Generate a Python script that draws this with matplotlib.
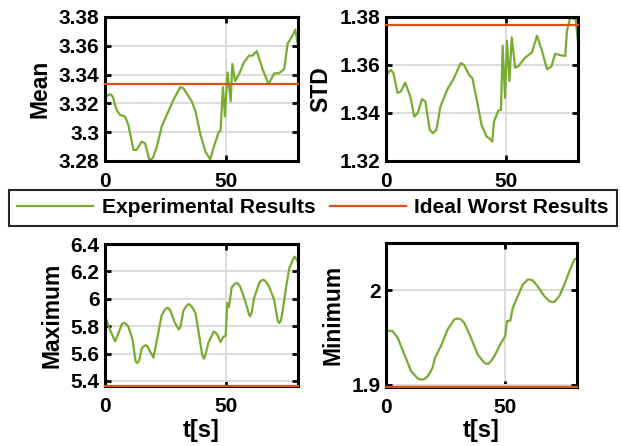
import numpy as np
import matplotlib
matplotlib.use('Agg')
import matplotlib.pyplot as plt
from matplotlib.ticker import FuncFormatter

plt.rcParams['font.family'] = ['Liberation Sans', 'DejaVu Sans']
plt.rcParams['font.weight'] = 'bold'

# values
mean_t = [0.5, 2.1, 3.2, 4.8, 6.2, 8.3, 9.7, 11.8, 13.1, 15.2, 16.6, 18.4, 19.8, 21.5, 23.5, 25.6, 28.4, 31.2,
          32.5, 36, 37.5, 39.6, 41.7, 43.6, 45.1, 47.2, 47.9, 48.9, 49.7, 50.8, 52.1, 52.8, 53.9, 55.6, 57.6,
          59.7, 61.1, 62.9, 65.3, 67.8, 70.1, 72.2, 74.3, 75.7, 77.8, 78.9, 80]
mean_v = [3.3250, 3.3264, 3.3248, 3.3155, 3.3120, 3.3109, 3.3050, 3.2877, 3.2877, 3.2935, 3.2923, 3.2807,
          3.2819, 3.2900, 3.3039, 3.3120, 3.3225, 3.3313, 3.3306, 3.3213, 3.3145, 3.2980, 3.2863, 3.2810,
          3.2899, 3.3004, 3.3010, 3.3314, 3.3110, 3.3415, 3.3215, 3.3474, 3.3356, 3.3404, 3.3485, 3.3532,
          3.3532, 3.3563, 3.3439, 3.3333, 3.3408, 3.3410, 3.3439, 3.3615, 3.3673, 3.3713, 3.3600]
mean_worst = 3.3335

std_t = [0.5, 2, 3.1, 4.8, 6.2, 8, 10.1, 11.8, 13.2, 15, 16.4, 18.2, 19.6, 21, 22.7, 25.5, 28.3, 31.1, 32.5,
         34.6, 36, 37.8, 39.8, 41.9, 43.6, 44.3, 45, 46.8, 47.9, 48.6, 49.6, 50.4, 51.4, 52.4, 53.8, 55.2, 58,
         60.8, 62.9, 65, 67.1, 68.9, 70.5, 72.6, 74.7, 75.4, 76.6, 77.5, 78.2, 78.9, 80]
std_v = [1.3563, 1.3580, 1.3566, 1.3483, 1.3490, 1.3527, 1.3469, 1.3385, 1.3399, 1.3458, 1.3448, 1.3330,
         1.3316, 1.3330, 1.3427, 1.3497, 1.3545, 1.3608, 1.3601, 1.3559, 1.3545, 1.3455, 1.3351, 1.3302,
         1.3290, 1.3281, 1.3365, 1.3410, 1.3413, 1.3680, 1.3463, 1.3701, 1.3533, 1.3715, 1.3589, 1.3596,
         1.3631, 1.3652, 1.3722, 1.3659, 1.3582, 1.3594, 1.3647, 1.3641, 1.3638, 1.3743, 1.3792, 1.3805,
         1.3790, 1.3805, 1.3694]
std_worst = 1.3765

max_t = [0.5, 2.1, 4.2, 5.5, 7, 7.9, 8.8, 9.7, 11.5, 12.6, 13.2, 13.8, 14.3, 15.2, 16.2, 17, 17.8, 18.4, 20.1,
         21.5, 23.5, 24.6, 25.6, 26.4, 27, 28.8, 30.5, 31.2, 32.5, 33.6, 34.6, 35.3, 36, 37.5, 39.2, 40.3, 41,
         41.8, 42.8, 45.1, 46.5, 47.9, 48.9, 50, 50.7, 51.4, 52.5, 53.8, 54.9, 56, 57, 59, 59.6, 60.1, 60.8,
         61.8, 63.9, 64.8, 65.7, 66.7, 68, 70.1, 71.6, 72.2, 72.9, 73.6, 75, 76.4, 78.2, 78.7, 79.9]
max_v = [5.850, 5.771, 5.690, 5.746, 5.815, 5.824, 5.815, 5.795, 5.698, 5.548, 5.532, 5.540, 5.556, 5.637,
         5.655, 5.661, 5.648, 5.624, 5.571, 5.698, 5.880, 5.915, 5.934, 5.930, 5.917, 5.832, 5.776, 5.790,
         5.912, 5.945, 5.961, 5.955, 5.941, 5.896, 5.713, 5.590, 5.562, 5.600, 5.677, 5.762, 5.740, 5.684,
         5.720, 5.730, 5.969, 5.940, 6.083, 6.110, 6.115, 6.090, 6.042, 5.932, 5.890, 5.871, 5.900, 6.005,
         6.115, 6.135, 6.139, 6.125, 6.090, 5.993, 5.840, 5.823, 5.840, 5.908, 6.078, 6.224, 6.297, 6.307,
         6.273]
max_worst = 5.363

min_t = [0.5, 2.8, 4.9, 7.7, 10.5, 13.3, 14.3, 15.4, 16.5, 17.5, 19.5, 20.5, 23, 25.8, 28.6, 29.4, 30.3, 31.4,
         32.8, 35.6, 38.4, 41.2, 42, 42.9, 44, 45.4, 48.2, 49.9, 50.7, 52.1, 53.1, 55.2, 57.3, 59.4, 60.5, 61.5,
         63.5, 66.3, 68.4, 69.5, 70.5, 72.6, 74.7, 76.8, 78.9, 79.6]
min_v = [1.9573, 1.9566, 1.9496, 1.9319, 1.9143, 1.9065, 1.9055, 1.9055, 1.9065, 1.9090, 1.9178, 1.9284,
         1.9407, 1.9584, 1.9690, 1.9698, 1.9700, 1.9690, 1.9654, 1.9496, 1.9319, 1.9231, 1.9222, 1.9220,
         1.9250, 1.9302, 1.9443, 1.9513, 1.9672, 1.9679, 1.9813, 1.9937, 2.0060, 2.0113, 2.0112, 2.0102,
         2.0042, 1.9937, 1.9884, 1.9875, 1.9877, 1.9937, 2.0060, 2.0201, 2.0325, 2.0335]
min_worst = 1.898

green = '#77AC30'
red = '#D95319'

W, H = 621, 446
fig = plt.figure(figsize=(W / 100, H / 100), dpi=100)


def panel(box, t, v, worst, ylim, yticks, ylabel, xlabel=None):
    l, r, top, bot = box
    ax = fig.add_axes([l / W, 1 - bot / H, (r - l) / W, (bot - top) / H])
    ax.plot(t, v, '-', color=green, lw=1.6, label='Experimental Results')
    ax.plot([0, 80], [worst, worst], '-', color=red, lw=1.6, label='Ideal Worst Results',
            clip_on=False, zorder=3)
    ax.set_xlim(0, 80)
    ax.set_ylim(*ylim)
    ax.set_xticks([0, 50])
    ax.set_yticks(yticks)
    ax.yaxis.set_major_formatter(FuncFormatter(lambda x, p: '%g' % round(x, 4)))
    ax.grid(True, color='#dcdcdc', lw=1.4)
    ax.set_axisbelow(True)
    for s in ax.spines.values():
        s.set_linewidth(2.2)
    ax.tick_params(direction='in', length=4, width=2, top=True, right=True, labelsize=15)
    ax.tick_params(axis='x', pad=8)
    ax.tick_params(axis='y', pad=4)
    ax.set_ylabel(ylabel, fontsize=16.5, fontweight='bold', labelpad=5)
    if xlabel:
        ax.set_xlabel(xlabel, fontsize=17, fontweight='bold', labelpad=2)
    return ax


ax1 = panel((105, 298, 17, 161), mean_t, mean_v, mean_worst, (3.28, 3.38),
            [3.28, 3.30, 3.32, 3.34, 3.36, 3.38], 'Mean')
panel((386, 578, 17, 161), std_t, std_v, std_worst, (1.32, 1.38), [1.32, 1.34, 1.36, 1.38], 'STD')
panel((105, 298, 244, 386), max_t, max_v, max_worst, (5.363, 6.4),
      [5.4, 5.6, 5.8, 6.0, 6.2, 6.4], 'Maximum', 't[s]')
panel((386, 577, 243, 386.5), min_t, min_v, min_worst, (1.898, 2.05), [1.9, 2.0], 'Minimum', 't[s]')

h, lab = ax1.get_legend_handles_labels()
leg = fig.legend(h, lab, loc='upper left', bbox_to_anchor=(9 / W, 1 - 190 / H), ncol=2,
                 prop={'size': 15.1, 'weight': 'bold'}, fancybox=False, framealpha=1,
                 edgecolor='#262626', handlelength=3.6, handletextpad=0.42, columnspacing=0.7,
                 borderpad=0.4, borderaxespad=0)
leg.get_frame().set_linewidth(1.5)

plt.savefig('out.png', dpi=100)
